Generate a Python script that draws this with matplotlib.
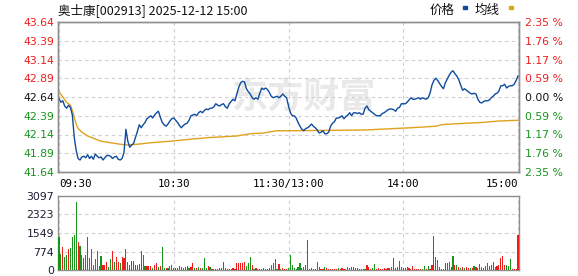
import matplotlib
matplotlib.use('Agg')
import matplotlib.pyplot as plt
from matplotlib.patches import Rectangle
import numpy as np

plt.rcParams['font.family'] = ['DejaVu Sans']
CJK = ['Noto Sans CJK SC', 'DejaVu Sans']

W, H = 578, 276
BLUE = '#0f4c9e'
GOLD = '#e0a21c'
UP = '#f01c1c'
DOWN = '#16941c'
GRID = '#cfcfcf'
EDGE = '#8f8f8f'

title = '奥士康[002913] 2025-12-12 15:00'
prev_close = 42.64
price_ticks = [43.64, 43.39, 43.14, 42.89, 42.64, 42.39, 42.14, 41.89, 41.64]
pct_labels = ['2.35 %', '1.76 %', '1.17 %', '0.59 %', '0.00 %',
              '0.59 %', '1.17 %', '1.76 %', '2.35 %']
vol_ticks = [0, 774, 1549, 2323, 3097]
time_pos = [0, 60, 120, 180, 240]
time_labels = ['09:30', '10:30', '11:30/13:00', '14:00', '15:00']

# one price per minute, 09:30 .. 15:00
price = [
    42.62, 42.57, 42.59, 42.52, 42.49, 42.53, 42.50, 42.40, 42.10, 41.93,
    41.82, 41.80, 41.84, 41.85, 41.83, 41.87, 41.82, 41.85, 41.81, 41.88,
    41.85, 41.83, 41.84, 41.80, 41.83, 41.86, 41.86, 41.85, 41.82, 41.84,
    41.85, 41.81, 41.80, 41.82, 41.90, 42.21, 42.05, 41.97, 42.00, 42.02,
    42.10, 42.18, 42.27, 42.23, 42.27, 42.30, 42.35, 42.37, 42.39, 42.36,
    42.40, 42.43, 42.45, 42.37, 42.30, 42.27, 42.25, 42.28, 42.32, 42.35,
    42.36, 42.33, 42.30, 42.26, 42.23, 42.26, 42.28, 42.29, 42.33, 42.39,
    42.40, 42.41, 42.39, 42.43, 42.45, 42.43, 42.46, 42.48, 42.47, 42.49,
    42.49, 42.51, 42.55, 42.53, 42.52, 42.54, 42.55, 42.51, 42.49, 42.55,
    42.58, 42.61, 42.59, 42.68, 42.77, 42.83, 42.85, 42.84, 42.75, 42.71,
    42.68, 42.63, 42.61, 42.63, 42.61, 42.69, 42.76, 42.74, 42.76, 42.74,
    42.70, 42.65, 42.63, 42.64, 42.65, 42.63, 42.65, 42.68, 42.65, 42.63,
    42.52, 42.43, 42.39, 42.39, 42.36, 42.30, 42.25, 42.21, 42.19, 42.22,
    42.23, 42.25, 42.28, 42.25, 42.23, 42.20, 42.16, 42.17, 42.19, 42.15,
    42.15, 42.17, 42.25, 42.29, 42.31, 42.36, 42.36, 42.37, 42.39, 42.35,
    42.38, 42.40, 42.43, 42.39, 42.43, 42.43, 42.42, 42.43, 42.41, 42.41,
    42.49, 42.52, 42.47, 42.45, 42.43, 42.41, 42.39, 42.39, 42.39, 42.42,
    42.43, 42.45, 42.47, 42.48, 42.48, 42.47, 42.45, 42.49, 42.50, 42.55,
    42.55, 42.55, 42.57, 42.60, 42.63, 42.61, 42.61, 42.62, 42.63, 42.61,
    42.63, 42.62, 42.61, 42.63, 42.69, 42.80, 42.86, 42.89, 42.86, 42.82,
    42.78, 42.75, 42.83, 42.88, 42.93, 42.97, 42.99, 42.95, 42.92, 42.87,
    42.80, 42.73, 42.75, 42.73, 42.71, 42.69, 42.68, 42.69, 42.68, 42.61,
    42.57, 42.56, 42.58, 42.59, 42.59, 42.60, 42.63, 42.65, 42.68, 42.69,
    42.72, 42.79, 42.79, 42.81, 42.76, 42.78, 42.79, 42.79, 42.81, 42.86,
    42.92,
]

avg_minutes = [0, 2, 4, 6, 7, 8, 9, 10, 12, 15, 18, 22, 27, 32, 36, 41, 48,
               58, 70, 79, 93, 100, 107, 114, 120, 160, 184, 197, 200, 205,
               221, 230, 240]
avg_price = [42.71, 42.64, 42.57, 42.53, 42.46, 42.37, 42.28, 42.22, 42.17,
             42.12, 42.09, 42.05, 42.03, 42.01, 42.00, 42.01, 42.03, 42.05,
             42.08, 42.10, 42.12, 42.15, 42.16, 42.19, 42.19, 42.20, 42.23,
             42.25, 42.27, 42.28, 42.30, 42.32, 42.33]

volume = [
    1390, 680, 970, 540, 630, 890, 920, 1380, 1480, 2860,
    1170, 1000, 610, 510, 630, 1380, 500, 870, 200, 450,
    810, 170, 590, 210, 200, 330, 130, 460, 800, 340,
    560, 340, 280, 530, 500, 880, 340, 220, 380,
    370, 190, 230, 260, 800, 620, 170, 170, 170, 160,
    100, 210, 300, 110, 160, 980, 100, 100, 80, 170,
    200, 100, 80, 100, 170, 130, 90, 120, 170, 90,
    130, 290, 100, 100, 140, 100, 90, 510, 100, 160,
    120, 60, 40, 60, 50, 80, 80, 350, 90, 60,
    60, 40, 70, 60, 300, 300, 310, 310, 330, 180,
    310, 560, 190, 60, 70, 40, 60, 50, 70, 40,
    60, 70, 200, 310, 440, 60, 240, 60, 80, 60, 50,
    100, 620, 230, 90, 60, 120, 300, 100, 140, 220,
    1270, 60, 70, 50, 60, 340, 120, 50, 50, 130,
    70, 50, 50, 50, 50, 60, 70, 50, 70, 50,
    60, 120, 90, 120, 120, 90, 80, 50, 60, 50,
    60, 190, 110, 60, 90, 240, 40, 70, 60, 60,
    70, 60, 70, 90, 130, 500, 80, 120, 380, 130,
    90, 90, 130, 90, 60, 160, 60, 60, 60, 60,
    40, 160, 60, 160, 60, 210, 1420, 550, 400, 110,
    50, 60, 280, 300, 340, 120, 590, 210, 200, 130,
    80, 130, 100, 130, 70, 100, 70, 170, 130, 90,
    250, 130, 70, 170, 280, 170, 210, 340, 110, 170,
    210, 520, 590, 210, 200, 170, 450, 60, 30, 60, 1460,
]
# R = up minute (red bar), G = down minute (green bar)
vol_side = ('GGRGGRGGGGRGGRRRGGGGGRGRRRGGRGRRGRRGRRR'
            'RRRRRGGRRRGRRGRGGRGRRGRGGRGRRGRRGRGRGGGR'
            'GRRRGRRRGRRGRRRRRRRGGGRGRRRRGGRRGGRGRGRRR'
            'GGGGGGGRGRRRRGRGRRRGRRRRRRGRRRRGRRRGRRRG'
            'GRRRGGRRRRRRRRGRRRRRGRRRRRRRRRGGRGRRRRGR'
            'GRRRGRGRGRGRGRRGRGRRGRGRGRRRGRRRRRGGGRRRR')

minutes = np.arange(len(price))
vol_minutes = np.arange(len(volume))
bar_colors = [UP if s == 'R' else DOWN for s in vol_side]


def box(left, top, right, bottom):
    return [left / W, 1 - bottom / H, (right - left) / W, (bottom - top) / H]


def tick_color(p):
    if p > prev_close + 1e-9:
        return UP
    if p < prev_close - 1e-9:
        return DOWN
    return '#111111'


fig = plt.figure(figsize=(W / 100, H / 100), dpi=100)
ax = fig.add_axes(box(58, 22, 519, 172))
axv = fig.add_axes(box(58, 196, 519, 270))

# price panel
ax.text(0.535, 0.5, '东方财富', transform=ax.transAxes, ha='center', va='center',
        fontsize=26, fontweight='bold', color='#e9e9e9', family=CJK, zorder=0)
ax.plot(avg_minutes, avg_price, color=GOLD, lw=1.0, zorder=3)
ax.plot(minutes, price, color=BLUE, lw=1.0, zorder=4)
ax.set_xlim(-0.5, 240.5)
ax.set_ylim(price_ticks[-1], price_ticks[0])
ax.set_yticks(price_ticks)
ax.set_yticklabels([f'{p:.2f}' for p in price_ticks], fontsize=7.8)
for lab, p in zip(ax.get_yticklabels(), price_ticks):
    lab.set_color(tick_color(p))
ax.set_xticks(time_pos)
ax.set_xticklabels(time_labels, fontsize=7.8, family='DejaVu Sans Mono')
xl = ax.get_xticklabels()
xl[0].set_ha('left')
xl[-1].set_ha('right')
ax.tick_params(axis='both', length=0)
ax.tick_params(axis='y', pad=3)
ax.tick_params(axis='x', pad=5)
ax.grid(True, color=GRID, lw=0.8, linestyle=(0, (3, 3)))
ax.set_axisbelow(True)

ax2 = ax.twinx()
ax2.set_ylim(price_ticks[-1], price_ticks[0])
ax2.set_yticks(price_ticks)
ax2.set_yticklabels(pct_labels, fontsize=7.8)
for lab, p in zip(ax2.get_yticklabels(), price_ticks):
    lab.set_color(tick_color(p))
ax2.tick_params(axis='y', length=0, pad=4)

# volume panel
axv.bar(vol_minutes, volume, width=0.6, color=bar_colors, linewidth=0, zorder=3)
axv.set_xlim(-0.5, 240.5)
axv.set_ylim(0, vol_ticks[-1])
axv.set_yticks(vol_ticks)
axv.set_yticklabels([str(v) for v in vol_ticks], fontsize=7.8, color='#1d1d33')
axv.set_xticks(time_pos)
axv.set_xticklabels([])
axv.tick_params(axis='both', length=0)
axv.tick_params(axis='y', pad=3)
axv.grid(True, color=GRID, lw=0.8, linestyle=(0, (3, 3)))
axv.set_axisbelow(True)

for a in (ax, ax2, axv):
    for s in a.spines.values():
        s.set_color(EDGE)
        s.set_linewidth(1.0)

# header: title and legend
fig.text(58 / W, 1 - 10 / H, title, ha='left', va='center', fontsize=9,
         family=CJK, color='#111111')
fig.text(455 / W, 1 - 10 / H, '价格', ha='right', va='center', fontsize=9,
         family=CJK, color='#111111')
fig.text(500 / W, 1 - 10 / H, '均线', ha='right', va='center', fontsize=9,
         family=CJK, color='#111111')
fig.add_artist(Rectangle((463 / W, 1 - 9 / H), 4 / W, 3 / H, color=BLUE,
                         transform=fig.transFigure))
fig.add_artist(Rectangle((509 / W, 1 - 9 / H), 4 / W, 3 / H, color=GOLD,
                         transform=fig.transFigure))

fig.savefig('out.png', dpi=100)
